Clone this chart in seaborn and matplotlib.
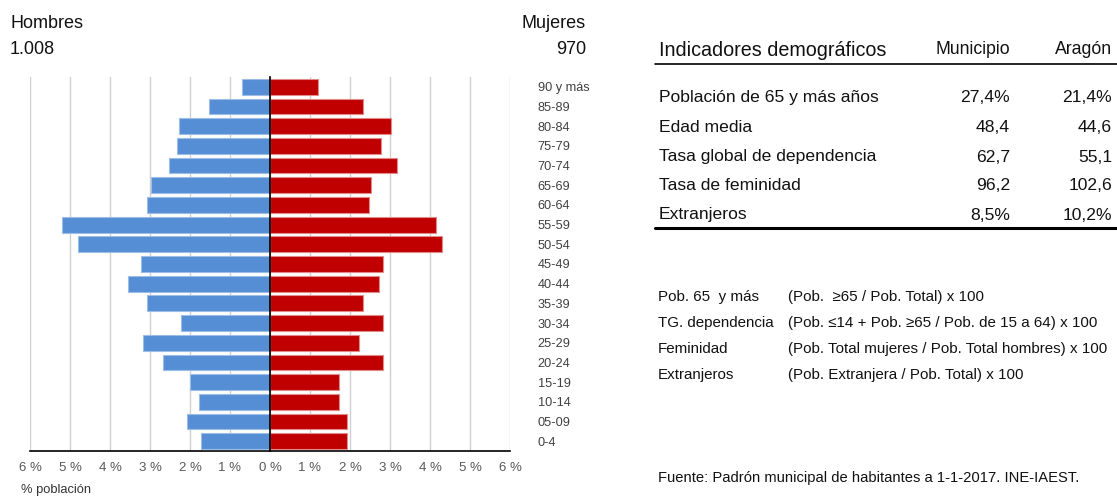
import matplotlib
matplotlib.use("Agg")
import matplotlib.pyplot as plt
from matplotlib.ticker import FuncFormatter, MultipleLocator
from matplotlib.lines import Line2D
import seaborn as sns
import pandas as pd

# Population pyramid data (% of total population)
grupos = ["90 y más", "85-89", "80-84", "75-79", "70-74", "65-69", "60-64",
          "55-59", "50-54", "45-49", "40-44", "35-39", "30-34", "25-29",
          "20-24", "15-19", "10-14", "05-09", "0-4"]
hombres = [0.71, 1.52, 2.28, 2.33, 2.53, 2.98, 3.08, 5.21, 4.80, 3.23,
           3.54, 3.08, 2.23, 3.18, 2.68, 2.01, 1.77, 2.07, 1.72]
mujeres = [1.21, 2.32, 3.03, 2.78, 3.18, 2.53, 2.48, 4.14, 4.29, 2.83,
           2.73, 2.33, 2.83, 2.23, 2.83, 1.72, 1.72, 1.92, 1.92]
total_hombres = "1.008"
total_mujeres = "970"

# Demographic indicators
indicadores = ["Población de 65 y más años", "Edad media",
               "Tasa global de dependencia", "Tasa de feminidad", "Extranjeros"]
municipio = ["27,4%", "48,4", "62,7", "96,2", "8,5%"]
aragon = ["21,4%", "44,6", "55,1", "102,6", "10,2%"]

definiciones = ["Pob. 65  y más", "TG. dependencia", "Feminidad", "Extranjeros"]
formulas = ["(Pob.  ≥65 / Pob. Total) x 100",
            "(Pob. ≤14 + Pob. ≥65 / Pob. de 15 a 64) x 100",
            "(Pob. Total mujeres / Pob. Total hombres) x 100",
            "(Pob. Extranjera / Pob. Total) x 100"]
fuente = "Fuente: Padrón municipal de habitantes a 1-1-2017. INE-IAEST."

sns.set_theme(style="white")
plt.rcParams["font.family"] = ["Liberation Sans", "DejaVu Sans"]

W, H = 1117, 496
fig = plt.figure(figsize=(W / 100, H / 100), dpi=100)
fig.patch.set_facecolor("white")


def px(x, y):
    return x / W, 1 - y / H


ax = fig.add_axes([30 / W, 1 - 451 / H, 480 / W, 374 / H])

df = pd.DataFrame({"grupo": grupos,
                   "Hombres": [-v for v in hombres],
                   "Mujeres": mujeres})

sns.barplot(data=df, x="Hombres", y="grupo", order=grupos, orient="h",
            color="#558ED5", saturation=1, width=0.8,
            edgecolor="#9DBDE6", linewidth=0.8, ax=ax, zorder=3)
sns.barplot(data=df, x="Mujeres", y="grupo", order=grupos, orient="h",
            color="#C00000", saturation=1, width=0.8,
            edgecolor="#E08A8A", linewidth=0.8, ax=ax, zorder=3)

ax.set_xlim(-6, 6)
ax.set_ylim(len(grupos) - 0.5, -0.5)
ax.xaxis.set_major_locator(MultipleLocator(1))
ax.xaxis.set_major_formatter(FuncFormatter(lambda v, p: f"{abs(v):.0f} %"))
ax.grid(axis="x", color="#D0D0D0", linewidth=1, zorder=0)
ax.grid(axis="y", visible=False)
ax.set_axisbelow(True)
ax.set_xlabel("")
ax.set_ylabel("")

for s in ["top", "right"]:
    ax.spines[s].set_visible(False)
ax.spines["bottom"].set_color("black")
ax.spines["bottom"].set_linewidth(1.2)
ax.spines["left"].set_position(("data", 0))
ax.spines["left"].set_color("black")
ax.spines["left"].set_linewidth(1.2)
ax.spines["left"].set_zorder(5)

ax.tick_params(axis="x", length=0, pad=8, labelsize=9.5, labelcolor="#595959")
ax.tick_params(axis="y", left=True, right=False, labelleft=False,
               labelright=True, direction="out", length=3, width=0.8,
               color="#404040", pad=17, labelsize=9.2, labelcolor="#404040")
for lbl in ax.get_yticklabels():
    lbl.set_horizontalalignment("left")

# Header totals
fig.text(*px(10, 24), "Hombres", fontsize=13, va="center", ha="left", color="#111111")
fig.text(*px(10, 50), total_hombres, fontsize=13, va="center", ha="left", color="#111111")
fig.text(*px(586, 24), "Mujeres", fontsize=13, va="center", ha="right", color="#111111")
fig.text(*px(586, 50), total_mujeres, fontsize=13, va="center", ha="right", color="#111111")
fig.text(*px(21, 490), "% población", fontsize=9.3, va="center", ha="left", color="#333333")

# Indicators table
fig.text(*px(659, 50), "Indicadores demográficos", fontsize=14.2, va="center", ha="left", color="#111111")
fig.text(*px(1010, 50), "Municipio", fontsize=12.7, va="center", ha="right", color="#111111")
fig.text(*px(1112, 50), "Aragón", fontsize=12.7, va="center", ha="right", color="#111111")
fig.add_artist(Line2D([655 / W, 1.0], [1 - 64 / H] * 2, color="black", lw=1.2,
                      transform=fig.transFigure))
row_y = [98, 128, 157, 186, 215]
for yy, name, m, a in zip(row_y, indicadores, municipio, aragon):
    fig.text(*px(659, yy), name, fontsize=12.6, va="center", ha="left", color="#111111")
    fig.text(*px(1010, yy), m, fontsize=12.6, va="center", ha="right", color="#111111")
    fig.text(*px(1112, yy), a, fontsize=12.6, va="center", ha="right", color="#111111")
fig.add_artist(Line2D([655 / W, 1.0], [1 - 228 / H] * 2, color="black", lw=2.2,
                      transform=fig.transFigure))

# Definitions
form_y = [297, 323, 349, 375]
for yy, d, f in zip(form_y, definiciones, formulas):
    fig.text(*px(658, yy), d, fontsize=10.9, va="center", ha="left", color="#111111")
    fig.text(*px(788, yy), f, fontsize=10.9, va="center", ha="left", color="#111111")

fig.text(*px(658, 478), fuente, fontsize=10.6, va="center", ha="left", color="#111111")

fig.savefig("out.png", dpi=100, facecolor="white")
